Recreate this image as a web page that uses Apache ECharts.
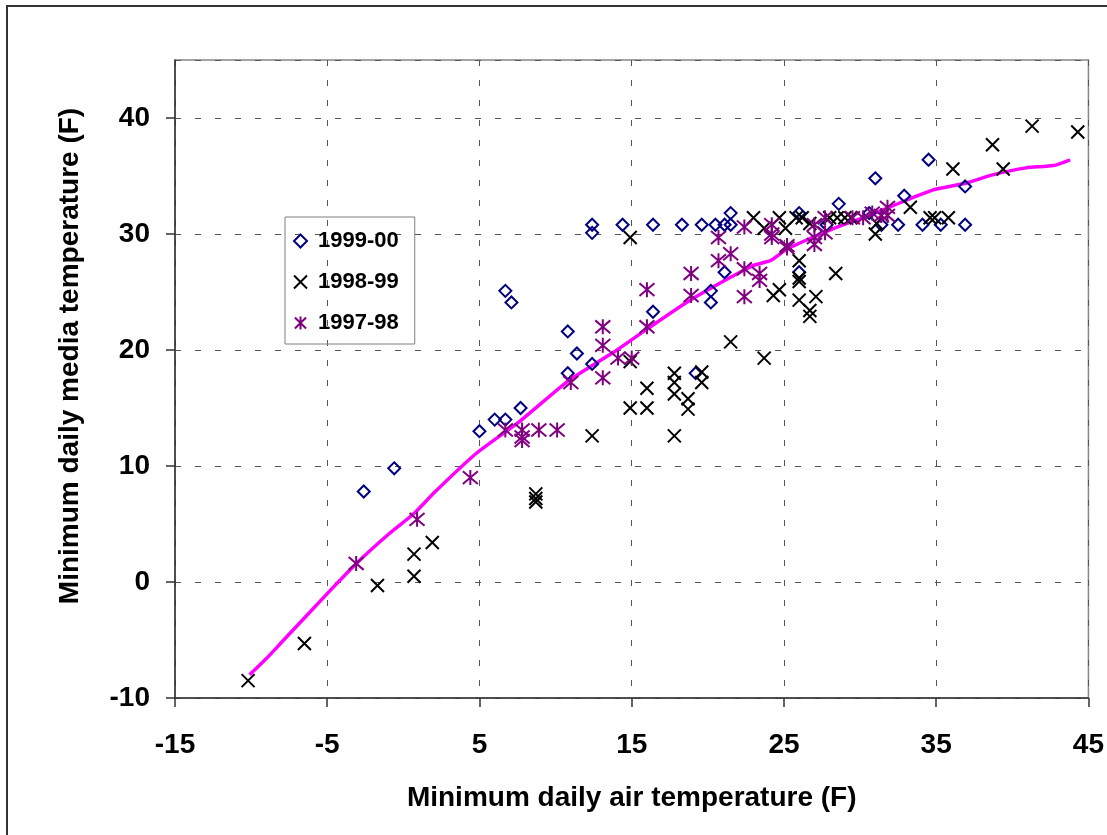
<!DOCTYPE html>
<html>
<head>
<meta charset="utf-8">
<script src="https://cdn.jsdelivr.net/npm/echarts@6/dist/echarts.min.js"></script>
<style>
  html, body { margin: 0; padding: 0; background: #fff; }
  #chart { width: 1107px; height: 835px; }
</style>
</head>
<body>
<div id="chart"></div>
<script>
// [air temp, media temp]
const points9900 = [
  [-2.6, 7.8], [-0.6, 9.8], [5.0, 13.0], [6.0, 14.0], [6.7, 14.0], [7.7, 15.0],
  [10.8, 18.0], [11.4, 19.7], [10.8, 21.6], [12.4, 18.8], [6.7, 25.1], [7.1, 24.1],
  [12.4, 30.8], [12.4, 30.1], [14.4, 30.8], [16.4, 30.8], [16.4, 23.3], [18.3, 30.8],
  [19.6, 30.8], [20.5, 30.8], [21.1, 30.8], [21.5, 31.8], [21.5, 30.8], [21.1, 26.7],
  [20.2, 25.1], [20.2, 24.1], [19.2, 18.0], [26.0, 31.8], [26.0, 26.7], [27.8, 30.8],
  [28.6, 32.6], [31.0, 34.8], [30.6, 31.8], [31.4, 30.8], [32.5, 30.8], [32.9, 33.3],
  [34.1, 30.8], [34.5, 36.4], [35.3, 30.8], [36.9, 34.1], [36.9, 30.8]
]
const points9899 = [
  [-10.2, -8.5], [-6.5, -5.3], [-1.7, -0.3], [0.7, 2.4], [0.7, 0.5], [1.9, 3.4],
  [8.7, 7.6], [8.7, 7.2], [8.7, 6.9], [12.4, 12.6], [14.9, 19.0], [14.9, 15.0],
  [16.0, 15.0], [16.0, 16.7], [14.9, 29.7], [17.8, 12.6], [17.8, 18.0], [17.8, 17.2],
  [17.8, 16.2], [18.7, 15.8], [18.7, 14.9], [19.6, 18.1], [19.6, 17.2], [21.5, 20.7],
  [23.7, 19.3], [23.0, 31.4], [24.3, 24.7], [24.7, 25.2], [23.7, 30.5], [24.7, 31.4],
  [25.1, 30.5], [26.0, 27.7], [26.0, 25.9], [26.0, 26.2], [26.0, 24.3], [27.1, 24.6],
  [26.7, 23.4], [26.7, 22.9], [28.4, 26.6], [25.8, 31.4], [26.2, 31.4], [26.7, 30.9],
  [28.0, 31.4], [28.5, 31.4], [29.0, 31.4], [29.4, 31.4], [31.0, 30.0], [31.1, 30.9],
  [33.3, 32.3], [34.6, 31.4], [34.9, 31.4], [35.8, 31.4], [36.1, 35.6], [38.7, 37.7],
  [39.4, 35.6], [41.3, 39.3], [44.3, 38.8]
]
const points9798 = [
  [-3.1, 1.6], [0.9, 5.4], [4.4, 9.0], [6.7, 13.1], [7.8, 13.1], [7.8, 12.5],
  [7.8, 12.2], [8.9, 13.1], [10.1, 13.1], [11.0, 17.2], [13.1, 22.0], [13.1, 20.4],
  [13.1, 17.6], [14.1, 19.3], [15.0, 19.3], [16.0, 22.0], [16.0, 25.2], [18.9, 26.6],
  [18.9, 24.7], [20.7, 29.7], [20.7, 27.7], [21.5, 28.3], [22.4, 30.6], [22.4, 27.0],
  [22.4, 24.6], [23.4, 26.6], [23.4, 26.0], [24.2, 30.8], [24.2, 30.0], [24.2, 29.7],
  [25.2, 29.0], [25.2, 28.8], [27.0, 30.8], [27.0, 29.7], [27.0, 29.1], [27.7, 31.4],
  [27.7, 30.1], [29.5, 31.4], [30.2, 31.4], [30.8, 31.8], [31.8, 32.3], [31.8, 31.6],
  [31.4, 31.6]
]
// fitted curve
const trendLine = [
  [-10.1, -8.0], [-9.0, -6.6], [-8.0, -5.2], [-5.0, -1.0], [-3.0, 1.7], [-0.9, 4.2],
  [0.7, 5.9], [2.1, 7.8], [4.8, 11.1], [7.6, 13.8], [10.9, 17.4], [13.8, 19.8],
  [16.0, 21.8], [18.6, 24.1], [21.4, 26.2], [23.0, 27.3], [24.1, 27.7], [25.2, 28.7],
  [26.7, 29.6], [28.7, 30.7], [30.4, 31.5], [31.9, 32.3], [34.8, 33.8], [37.0, 34.4],
  [38.7, 35.1], [40.9, 35.7], [42.7, 35.9], [43.8, 36.4]
]
const seasonNames = ['1999-00', '1998-99', '1997-98']

const FONT = '"Liberation Sans", Arial, sans-serif'
const crossPath = 'path://M0,0L10,10M10,0L0,10'
const starPath = 'path://M0,1L12,13M12,1L0,13M6,0L6,14'

let chartInstance = null

function initChart () {
  chartInstance = echarts.init(document.getElementById('chart'))
  updateChart()
}

function updateChart () {
  const option = {
    animation: false,
    backgroundColor: '#fff',
    grid: {
      left: 175,
      right: 18,
      top: 60,
      bottom: 137,
      show: true,
      borderColor: '#888',
      borderWidth: 1.5
    },
    legend: {
      orient: 'vertical',
      left: 285,
      top: 217,
      padding: [13, 16, 10, 8],
      itemGap: 19,
      itemWidth: 13,
      itemHeight: 13,
      borderColor: '#808080',
      borderWidth: 1,
      selectedMode: false,
      itemStyle: { borderWidth: 2 },
      textStyle: {
        fontFamily: FONT,
        fontWeight: 'bold',
        fontSize: 22,
        lineHeight: 22,
        color: '#000',
        padding: [0, 0, 0, 6]
      },
      data: [
        { name: seasonNames[0], icon: 'diamond' },
        { name: seasonNames[1], icon: crossPath },
        { name: seasonNames[2], icon: starPath }
      ]
    },
    xAxis: {
      type: 'value',
      min: -15,
      max: 45,
      interval: 10,
      name: 'Minimum daily air temperature (F)',
      nameLocation: 'middle',
      nameGap: 86,
      nameTextStyle: { fontFamily: FONT, fontWeight: 'bold', fontSize: 28, color: '#000' },
      axisLine: { onZero: false, lineStyle: { color: '#333', width: 1.5 } },
      axisTick: { show: true, length: 9, lineStyle: { color: '#333', width: 1.5 } },
      axisLabel: { margin: 33, fontFamily: FONT, fontWeight: 'bold', fontSize: 28, color: '#000' },
      splitLine: { show: true, lineStyle: { color: '#555', width: 1, type: [6, 14] } }
    },
    yAxis: {
      type: 'value',
      min: -10,
      max: 45,
      interval: 10,
      axisLine: { onZero: false, lineStyle: { color: '#333', width: 1.5 } },
      axisTick: { show: true, length: 9, lineStyle: { color: '#333', width: 1.5 } },
      axisLabel: { margin: 25, showMaxLabel: false, fontFamily: FONT, fontWeight: 'bold', fontSize: 28, color: '#000' },
      splitLine: { show: true, lineStyle: { color: '#555', width: 1, type: [6, 14] } }
    },
    graphic: [
      {
        // outer chart border
        type: 'rect',
        silent: true,
        shape: { x: 7, y: 6, width: 1300, height: 1000 },
        style: { fill: 'none', stroke: '#333', lineWidth: 2 }
      },
      {
        type: 'text',
        silent: true,
        x: 70,
        y: 356,
        rotation: Math.PI / 2,
        style: {
          text: 'Minimum daily media temperature (F)',
          font: 'bold 28px ' + FONT,
          fill: '#000',
          align: 'center',
          verticalAlign: 'middle'
        }
      }
    ],
    series: [
      {
        name: 'trend',
        type: 'line',
        showSymbol: false,
        smooth: 0.2,
        z: 1,
        lineStyle: { color: '#FF00FF', width: 3.5 },
        data: trendLine
      },
      {
        name: seasonNames[0],
        type: 'scatter',
        symbol: 'diamond',
        symbolSize: 12,
        itemStyle: { color: 'rgba(255,255,255,0)', opacity: 1, borderColor: '#000080', borderWidth: 2 },
        data: points9900
      },
      {
        name: seasonNames[1],
        type: 'scatter',
        symbol: crossPath,
        symbolSize: 13,
        itemStyle: { color: 'rgba(255,255,255,0)', opacity: 1, borderColor: '#000', borderWidth: 2 },
        data: points9899
      },
      {
        name: seasonNames[2],
        type: 'scatter',
        symbol: starPath,
        symbolSize: 15,
        itemStyle: { color: 'rgba(255,255,255,0)', opacity: 1, borderColor: '#800080', borderWidth: 2 },
        data: points9798
      }
    ]
  }
  chartInstance.setOption(option)
}

initChart()
</script>
</body>
</html>
